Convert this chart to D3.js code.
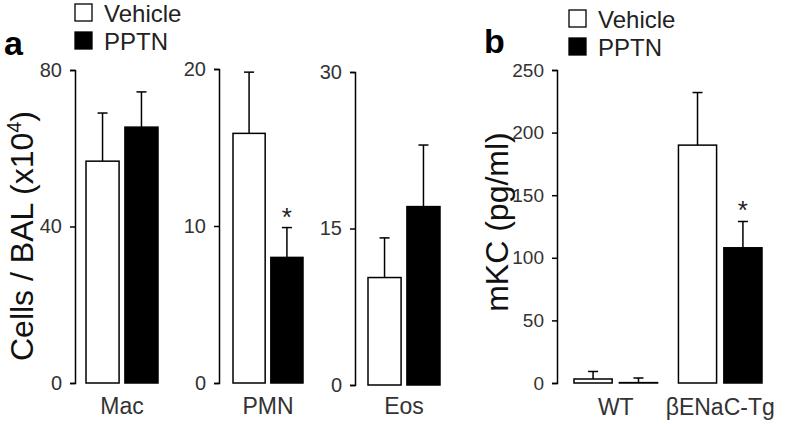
<!DOCTYPE html>
<html>
<head>
<meta charset="utf-8">
<script src="https://d3js.org/d3.v7.min.js"></script>
<style>
body { margin: 0; background: #fff; }
svg text { font-family: "Liberation Sans", Arial, Helvetica, sans-serif; }
.tick text { fill: #333; }
</style>
</head>
<body>
<svg id="fig" width="788" height="424"></svg>
<script>
// ---- data ----
var series = ["Vehicle", "PPTN"];

// panel a : BAL cells (x10^4)
var cellTypes = ["Mac", "PMN", "Eos"];
var cellMeans = { Mac: [56.7, 65.4], PMN: [15.9, 8.0], Eos: [10.3, 17.1] };
var cellErr   = { Mac: [12.3, 9.0],  PMN: [3.9, 1.9],  Eos: [3.8, 5.9] };
var cellTicks = { Mac: [0, 40, 80],  PMN: [0, 10, 20], Eos: [0, 15, 30] };
var cellStars = { Mac: [], PMN: ["PPTN"], Eos: [] };

// panel b : mKC (pg/ml)
var genotypes = ["WT", "\u03b2ENaC-Tg"];
var kcMeans = [[3.2, 0.3], [190, 108]];
var kcErr   = [[6, 3.7], [42, 21]];
var kcTicks = [0, 50, 100, 150, 200, 250];
var kcStars = [[], ["PPTN"]];

var svg = d3.select("#fig");
var fills = { Vehicle: "#fff", PPTN: "#000" };

function legend(x, y) {
  var g = svg.append("g").attr("transform", "translate(" + x + "," + y + ")");
  series.forEach(function(s, i) {
    g.append("rect").attr("x", 0).attr("y", i * 28).attr("width", 17).attr("height", 17)
      .attr("fill", fills[s]).attr("stroke", "#000").attr("stroke-width", 1.3);
    g.append("text").attr("x", 29).attr("y", i * 28 + 18).attr("font-size", 24)
      .attr("fill", "#222").text(s);
  });
}

function drawBars(g, x, y, means, errs, stars) {
  series.forEach(function(s, i) {
    var cx = x(s) + x.bandwidth() / 2;
    var top = y(means[i]);
    var et = y(means[i] + errs[i]);
    g.append("line").attr("x1", cx).attr("x2", cx).attr("y1", top).attr("y2", et)
      .attr("stroke", "#000").attr("stroke-width", 1.5);
    g.append("line").attr("x1", cx - 5).attr("x2", cx + 5).attr("y1", et).attr("y2", et)
      .attr("stroke", "#000").attr("stroke-width", 1.5);
    g.append("rect").attr("x", x(s)).attr("y", top)
      .attr("width", x.bandwidth()).attr("height", Math.max(0, y(0) - top))
      .attr("fill", fills[s]).attr("stroke", "#000").attr("stroke-width", 1.5);
    if (stars.indexOf(s) >= 0) {
      g.append("text").attr("x", cx).attr("y", et - 2).attr("text-anchor", "middle")
        .attr("font-size", 26).attr("fill", "#222").text("*");
    }
  });
}

function yAxis(axisX, y, ticks, size) {
  var ax = svg.append("g").attr("transform", "translate(" + axisX + ",0)")
    .call(d3.axisLeft(y).tickValues(ticks).tickSize(5).tickPadding(8).tickFormat(d3.format("d")));
  ax.selectAll("path, line").attr("stroke", "#000").attr("stroke-width", 1.5);
  ax.selectAll("text").attr("font-size", size).attr("font-family", "Liberation Sans, Arial, sans-serif");
}

// ---- panel a ----
svg.append("text").attr("x", 4).attr("y", 55).attr("font-size", 34).attr("font-weight", "bold").text("a");
legend(75, 4);

var aLayout = {
  Mac: { axis: 75,  bars: [86, 158],  y: [383, 70] },
  PMN: { axis: 219, bars: [233, 303], y: [383, 69] },
  Eos: { axis: 355, bars: [368, 440], y: [385, 72] }
};

cellTypes.forEach(function(c) {
  var L = aLayout[c];
  var t = cellTicks[c];
  var y = d3.scaleLinear().domain([0, t[t.length - 1]]).range(L.y);
  var x = d3.scaleBand().domain(series).range(L.bars).paddingInner(0.15);
  yAxis(L.axis, y, t, 20);
  drawBars(svg.append("g"), x, y, cellMeans[c], cellErr[c], cellStars[c]);
  svg.append("text").attr("x", (L.bars[0] + L.bars[1]) / 2).attr("y", 414)
    .attr("text-anchor", "middle").attr("font-size", 23).attr("fill", "#333").text(c);
});

var yt = svg.append("text").attr("transform", "translate(33,236) rotate(-90)")
  .attr("text-anchor", "middle").attr("font-size", 32).attr("fill", "#111");
yt.append("tspan").text("Cells / BAL (x10");
yt.append("tspan").attr("font-size", 20).attr("dy", -12).text("4");
yt.append("tspan").attr("dy", 12).text(")");

// ---- panel b ----
svg.append("text").attr("x", 484).attr("y", 53).attr("font-size", 34).attr("font-weight", "bold").text("b");
legend(569, 10);

var yb = d3.scaleLinear().domain([0, 250]).range([383, 70]);
var xg = d3.scaleBand().domain(genotypes).range([574, 762]).paddingInner(0.2);
var xs = d3.scaleBand().domain(series).range([0, xg.bandwidth()]).paddingInner(0.16);
yAxis(557, yb, kcTicks, 19);

genotypes.forEach(function(gname, gi) {
  var g = svg.append("g").attr("transform", "translate(" + xg(gname) + ",0)");
  drawBars(g, xs, yb, kcMeans[gi], kcErr[gi], kcStars[gi]);
  svg.append("text").attr("x", xg(gname) + xg.bandwidth() / 2).attr("y", 415)
    .attr("text-anchor", "middle").attr("font-size", 23).attr("fill", "#333").text(gname);
});

svg.append("text").attr("transform", "translate(508,222) rotate(-90)")
  .attr("text-anchor", "middle").attr("font-size", 32).attr("fill", "#111").text("mKC (pg/ml)");
</script>
</body>
</html>
